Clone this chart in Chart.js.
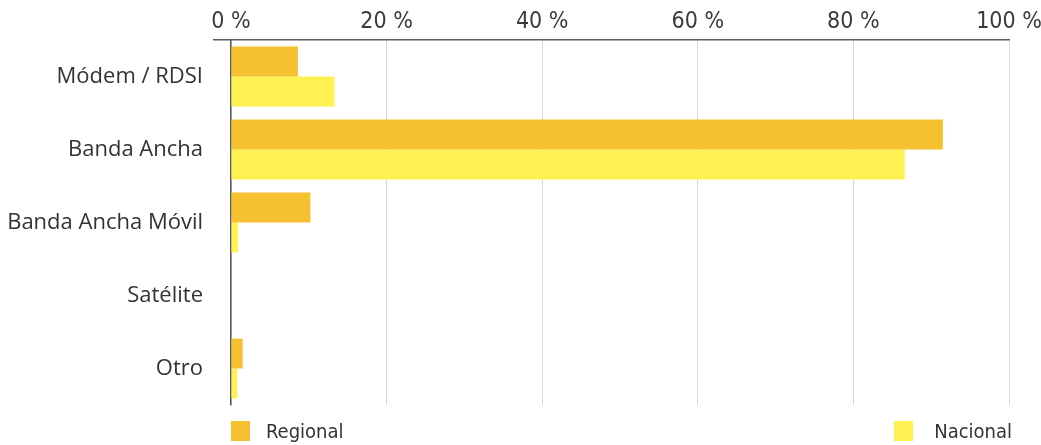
<!DOCTYPE html>
<html>
<head>
<meta charset="utf-8">
<script src="https://cdn.jsdelivr.net/npm/chart.js@4/dist/chart.umd.min.js"></script>
<style>
  html, body { margin: 0; padding: 0; background: #fff; }
  #wrap { position: relative; width: 1041px; height: 445px; }
  #legend { position: absolute; left: 231px; right: 29px; top: 419px; height: 24px;
            display: flex; justify-content: space-between; align-items: center;
            font-family: "DejaVu Sans Condensed", "Liberation Sans Narrow", "DejaVu Sans", sans-serif;
            font-size: 20px; color: #333; }
  .item { display: flex; align-items: center; }
  .sw { width: 19px; height: 20px; display: inline-block; }
</style>
</head>
<body>
<div id="wrap">
  <canvas id="c" width="1041" height="445"></canvas>
  <div id="legend"></div>
</div>
<script>
const categories = ['Módem / RDSI', 'Banda Ancha', 'Banda Ancha Móvil', 'Satélite', 'Otro'];
const seriesNames = ['Regional', 'Nacional'];
const regional = [8.6, 91.5, 10.2, 0, 1.5];
const nacional = [13.3, 86.6, 0.9, 0, 0.8];
const xTickValues = [0, 20, 40, 60, 80, 100];
const xTickSuffix = ' %';

const colors = ['#F5C12F', '#FFF152'];
const axisColor = '#5a5a5a';
const gridColor = '#d9d9d9';
const condensed = '"DejaVu Sans Condensed", "Liberation Sans Narrow", "DejaVu Sans", sans-serif';

const chart = new Chart(document.getElementById('c'), {
  type: 'bar',
  data: {
    labels: categories,
    datasets: [
      { label: seriesNames[0], data: regional, backgroundColor: colors[0], borderWidth: 0,
        categoryPercentage: 0.82, barPercentage: 1.0 },
      { label: seriesNames[1], data: nacional, backgroundColor: colors[1], borderWidth: 0,
        categoryPercentage: 0.82, barPercentage: 1.0 }
    ]
  },
  options: {
    indexAxis: 'y',
    responsive: false,
    animation: false,
    layout: { padding: { left: 0, right: 32, top: 0, bottom: 40 } },
    plugins: { legend: { display: false }, tooltip: { enabled: false } },
    scales: {
      x: {
        position: 'top',
        min: xTickValues[0],
        max: xTickValues[xTickValues.length - 1],
        afterBuildTicks: (s) => { s.ticks = xTickValues.map(v => ({ value: v })); },
        afterFit: (s) => { s.height = 40; s.paddingLeft = 0; s.paddingRight = 0; },
        ticks: {
          color: '#3a3a3a',
          padding: 4,
          font: { family: condensed, size: 23 },
          callback: (v) => v + xTickSuffix,
          maxRotation: 0
        },
        grid: { color: gridColor, lineWidth: 1, drawTicks: false },
        border: { display: true, color: axisColor, width: 1.5 }
      },
      y: {
        afterFit: (s) => { s.width = 231; },
        ticks: {
          color: '#333',
          padding: 10,
          font: { family: '"Open Sans", "DejaVu Sans", sans-serif', size: 22 }
        },
        grid: {
          drawOnChartArea: false,
          drawTicks: true,
          tickLength: 18,
          lineWidth: 1.5,
          color: (ctx) => ctx.index === 0 ? axisColor : 'rgba(0,0,0,0)'
        },
        border: { display: true, color: axisColor, width: 1.5 }
      }
    }
  }
});

const legend = document.getElementById('legend');
chart.data.datasets.forEach((ds) => {
  const it = document.createElement('div');
  it.className = 'item';
  const sw = document.createElement('span');
  sw.className = 'sw';
  sw.style.background = ds.backgroundColor;
  const tx = document.createElement('span');
  tx.textContent = ds.label;
  tx.style.marginLeft = ds === chart.data.datasets[0] ? '16px' : '21px';
  it.appendChild(sw); it.appendChild(tx);
  legend.appendChild(it);
});
</script>
</body>
</html>
